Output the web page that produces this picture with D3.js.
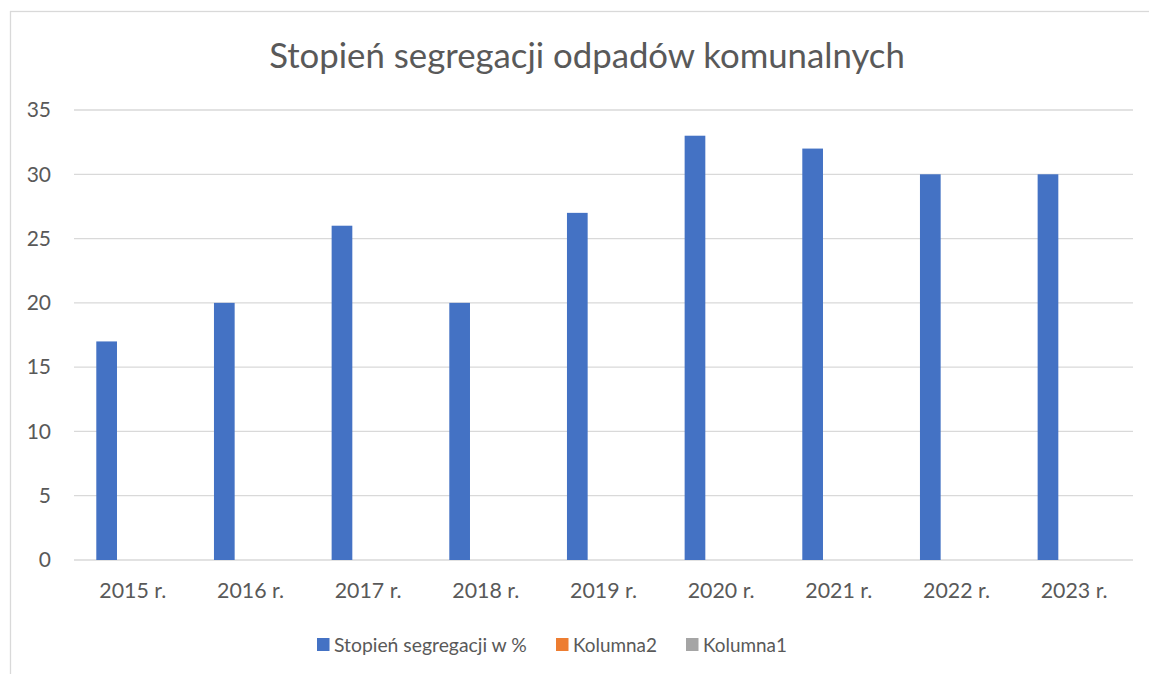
<!DOCTYPE html>
<html>
<head>
<meta charset="utf-8">
<script src="https://cdn.jsdelivr.net/npm/d3@7"></script>
<style>
  body { margin: 0; background: #fff; }
  svg { display: block; font-family: Lato, "Open Sans", sans-serif; }
</style>
</head>
<body>
<div id="chart"></div>
<script>
'use strict';

const categories = ['2015 r.', '2016 r.', '2017 r.', '2018 r.', '2019 r.', '2020 r.', '2021 r.', '2022 r.', '2023 r.'];
const seriesNames = ['Stopień segregacji w %', 'Kolumna2', 'Kolumna1'];
const seriesColors = ['#4472C4', '#ED7D31', '#A5A5A5'];
const segregacja = [17, 20, 26, 20, 27, 33, 32, 30, 30];
const kolumna2 = [null, null, null, null, null, null, null, null, null];
const kolumna1 = [null, null, null, null, null, null, null, null, null];
const yTicks = [0, 5, 10, 15, 20, 25, 30, 35];
const title = 'Stopień segregacji odpadów komunalnych';

const width = 1149, height = 674;
const plot = { left: 74, right: 1133, top: 110, bottom: 560 };
const textColor = '#595959';
const gridColor = '#D9D9D9';

const svg = d3.select('#chart').append('svg')
  .attr('width', width)
  .attr('height', height);

// chart frame (runs off the right and bottom of the picture)
svg.append('rect')
  .attr('x', 10.5).attr('y', 11.5)
  .attr('width', width + 20).attr('height', height + 20)
  .attr('fill', 'none')
  .attr('stroke', gridColor)
  .attr('stroke-width', 1.3);

// squeeze or grow a text so its width matches what the reference shows
function fitWidth(sel, target) {
  const node = sel.node();
  const size = parseFloat(sel.attr('font-size'));
  const w = node.getComputedTextLength();
  if (w > 0) sel.attr('font-size', size * target / w);
}

const x0 = d3.scaleBand()
  .domain(categories)
  .range([plot.left, plot.right])
  .paddingInner(0.379)
  .paddingOuter(0.1895);

const x1 = d3.scaleBand()
  .domain(seriesNames)
  .range([0, x0.bandwidth()])
  .paddingInner(0.21);

const y = d3.scaleLinear()
  .domain([0, 35])
  .range([plot.bottom, plot.top]);

// gridlines
svg.append('g')
  .selectAll('line')
  .data(yTicks)
  .join('line')
  .attr('x1', plot.left).attr('x2', plot.right)
  .attr('y1', d => y(d)).attr('y2', d => y(d))
  .attr('stroke', gridColor)
  .attr('stroke-width', 1.3);

// y axis labels
svg.append('g')
  .selectAll('text')
  .data(yTicks)
  .join('text')
  .attr('x', 51)
  .attr('y', d => y(d))
  .attr('dy', '0.35em')
  .attr('text-anchor', 'end')
  .attr('font-size', 21)
  .attr('fill', textColor)
  .text(d => d);

// bars
const seriesData = [segregacja, kolumna2, kolumna1];
seriesData.forEach((values, si) => {
  svg.append('g')
    .attr('fill', seriesColors[si])
    .selectAll('rect')
    .data(values.map((v, i) => ({ cat: categories[i], v })).filter(d => d.v != null))
    .join('rect')
    .attr('x', d => x0(d.cat) + x1(seriesNames[si]))
    .attr('width', x1.bandwidth())
    .attr('y', d => y(d.v))
    .attr('height', d => y(0) - y(d.v));
});

// x axis labels
const xLabels = svg.append('g')
  .selectAll('text')
  .data(categories)
  .join('text')
  .attr('x', d => x0(d) - x0.step() * x0.paddingInner() / 2 + x0.step() / 2)
  .attr('y', 598)
  .attr('text-anchor', 'middle')
  .attr('font-size', 21)
  .attr('fill', textColor)
  .text(d => d);
fitWidth(d3.select(xLabels.nodes()[0]), 67);
xLabels.attr('font-size', d3.select(xLabels.nodes()[0]).attr('font-size'));

// title
const titleText = svg.append('text')
  .attr('x', 587)
  .attr('y', 68)
  .attr('text-anchor', 'middle')
  .attr('font-size', 32)
  .attr('fill', textColor)
  .text(title);
fitWidth(titleText, 636);

// legend
const legendX = [317, 556, 686];
const legendW = [193, 84, 84];
const legend = svg.append('g');
seriesNames.forEach((name, i) => {
  legend.append('rect')
    .attr('x', legendX[i]).attr('y', 638)
    .attr('width', 12.5).attr('height', 13)
    .attr('fill', seriesColors[i]);
  const t = legend.append('text')
    .attr('x', legendX[i] + 17)
    .attr('y', 652)
    .attr('font-size', 20)
    .attr('fill', textColor)
    .text(name);
  fitWidth(t, legendW[i]);
});
</script>
</body>
</html>
